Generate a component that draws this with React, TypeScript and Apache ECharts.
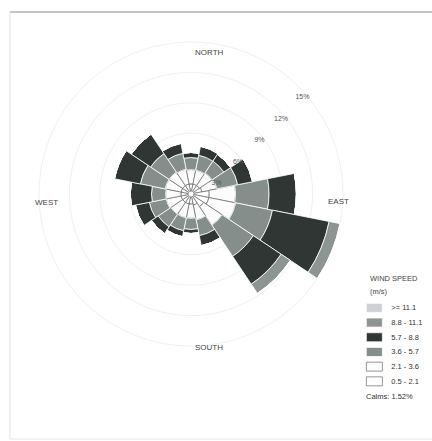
import React, { useEffect, useRef } from "react";
import * as echarts from "echarts";

const DIRECTIONS = ["N", "NNE", "NE", "ENE", "E", "ESE", "SE", "SSE", "S", "SSW", "SW", "WSW", "W", "WNW", "NW", "NNW"];
const BIN_NAMES = ["0.5 - 2.1", "2.1 - 3.6", "3.6 - 5.7", "5.7 - 8.8", "8.8 - 11.1", ">= 11.1"];
// frequency (%) per direction, per wind speed class
const BIN_05_21 = [1.0, 1.0, 1.0, 1.1, 1.8, 1.8, 1.5, 1.1, 1.0, 1.0, 1.0, 1.0, 1.0, 1.0, 1.0, 1.0];
const BIN_21_36 = [1.4, 1.4, 1.5, 1.5, 2.6, 2.7, 2.2, 1.5, 1.4, 1.4, 1.4, 1.5, 1.5, 1.6, 1.6, 1.5];
const BIN_36_57 = [1.2, 1.5, 1.4, 2.1, 3.3, 3.7, 3.7, 1.6, 1.1, 1.3, 1.5, 1.7, 1.4, 2.5, 2.2, 1.6];
const BIN_57_88 = [0.5, 0.9, 0.8, 1.5, 2.7, 5.7, 3.3, 1.0, 0.4, 0.6, 0.8, 1.4, 2.1, 2.6, 2.3, 1.0];
const BIN_88_111 = [0, 0, 0, 0, 0, 1.1, 1.1, 0, 0, 0, 0, 0, 0, 0, 0, 0];
const BIN_GE_111 = [0, 0, 0, 0, 0, 0, 0, 0, 0, 0, 0, 0, 0, 0, 0, 0];
const BIN_DATA = [BIN_05_21, BIN_21_36, BIN_36_57, BIN_57_88, BIN_88_111, BIN_GE_111];
const BIN_COLORS = ["#ffffff", "#fcfcfc", "#858e8a", "#2f3633", "#8c9591", "#cdd1d6"];
const RING_VALUES = [3, 6, 9, 12, 15];
const RING_LABELS = ["3%", "6%", "9%", "12%", "15%"];
const CALMS = "Calms: 1.52%";

export default function App() {
  const ref = useRef<HTMLDivElement>(null);
  useEffect(() => {
    if (!ref.current) return;
    const chart = echarts.init(ref.current, null, { renderer: "svg" });
    const cx = 191;
    const cy = 194;
    const R = 152;
    const MAX = 15;
    const ppu = R / MAX;
    const font = "Liberation Sans, Arial, sans-serif";
    const ang = (45 * Math.PI) / 180;

    const series = BIN_NAMES.map((name, i) => ({
      name,
      type: "bar",
      coordinateSystem: "polar",
      stack: "wind",
      barCategoryGap: "0%",
      data: BIN_DATA[i],
      itemStyle: {
        color: BIN_COLORS[i],
        borderColor: i < 2 ? "#6a6a6a" : "#ffffff",
        borderWidth: i < 2 ? 0.7 : 0.8,
      },
      emphasis: { disabled: true },
    }));

    const ringTexts = RING_VALUES.map((v, i) => ({
      type: "text",
      x: cx + v * ppu * Math.cos(ang) + 4,
      y: cy - v * ppu * Math.sin(ang) + 10,
      style: {
        text: RING_LABELS[i],
        fill: "#555",
        font: `7px ${font}`,
        align: "center",
        verticalAlign: "middle",
      },
      z: 100,
      zlevel: 1,
    }));

    const dirLabel = (text: string, x: number, y: number) => ({
      type: "text",
      x,
      y,
      style: { text, fill: "#444", font: `8px ${font}`, align: "left", verticalAlign: "middle" },
      z: 10,
    });

    chart.setOption({
      animation: false,
      backgroundColor: "#ffffff",
      polar: { center: [cx, cy], radius: [0, R] },
      angleAxis: {
        type: "category",
        data: DIRECTIONS,
        startAngle: 90 + 11.25,
        clockwise: true,
        boundaryGap: true,
        axisLine: { show: false },
        axisTick: { show: false },
        axisLabel: { show: false },
        splitLine: { show: false },
      },
      radiusAxis: {
        min: 0,
        max: MAX,
        interval: 3,
        axisLine: { show: false },
        axisTick: { show: false },
        axisLabel: { show: false },
        splitLine: { show: true, lineStyle: { color: "#f0f0f0", width: 1 } },
      },
      legend: {
        orient: "vertical",
        left: 366,
        top: 303,
        padding: 0,
        itemWidth: 16,
        itemHeight: 9,
        itemGap: 5,
        icon: "rect",
        selectedMode: false,
        itemStyle: { borderWidth: 0.7 },
        data: [...BIN_NAMES].reverse(),
        textStyle: { fontSize: 7.5, lineHeight: 9, color: "#333", fontFamily: font, padding: [0, 0, 0, 4] },
      },
      series,
      graphic: [
        { type: "line", shape: { x1: 10, y1: 12, x2: 432, y2: 12 }, style: { stroke: "#8a8a8a", lineWidth: 1 } },
        { type: "line", shape: { x1: 10, y1: 12, x2: 10, y2: 439 }, style: { stroke: "#e2e2e2", lineWidth: 1 } },
        { type: "line", shape: { x1: 10, y1: 439, x2: 432, y2: 439 }, style: { stroke: "#e8e8e8", lineWidth: 1 } },
        { type: "circle", shape: { cx, cy, r: 3 }, style: { fill: "#fff", stroke: "#777", lineWidth: 0.7 }, z: 10 },
        dirLabel("NORTH", 195, 52),
        dirLabel("SOUTH", 195, 347),
        dirLabel("WEST", 35, 202),
        dirLabel("EAST", 328, 201),
        ...ringTexts,
        {
          type: "text",
          x: 370,
          y: 278,
          style: { text: "WIND SPEED", fill: "#444", font: `7.5px ${font}`, verticalAlign: "middle" },
        },
        {
          type: "text",
          x: 370,
          y: 291,
          style: { text: "(m/s)", fill: "#444", font: `7.5px ${font}`, verticalAlign: "middle" },
        },
        {
          type: "text",
          x: 366,
          y: 396,
          style: { text: CALMS, fill: "#333", font: `7.5px ${font}`, verticalAlign: "middle" },
        },
      ],
    });
    return () => chart.dispose();
  }, []);
  return <div ref={ref} style={{ position: "absolute", left: 0, top: 0, width: 432, height: 441 }} />;
}
